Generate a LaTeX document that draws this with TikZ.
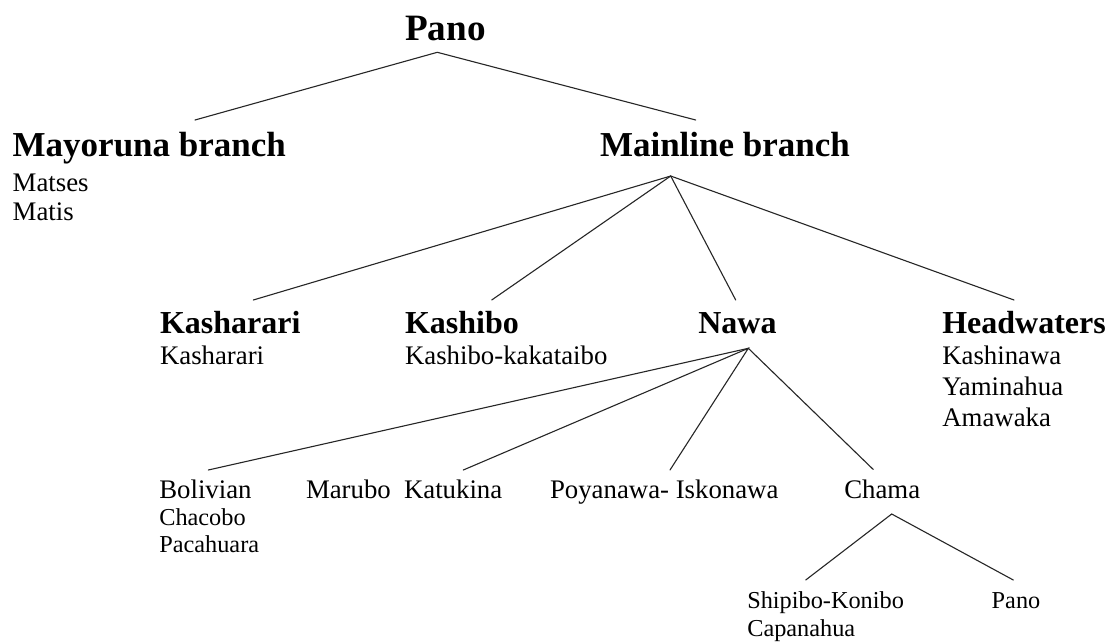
\documentclass[tikz,border=0pt]{standalone}
\usepackage{fontspec}
\setmainfont{Liberation Serif}
\tikzset{
  every node/.style={inner sep=0pt, outer sep=0pt, anchor=base west},
  topstyle/.style={font=\fontsize{37.2}{37.2}\selectfont\bfseries, anchor=base},
  lvlone/.style={font=\fontsize{35}{35}\selectfont\bfseries},
  lvltwo/.style={font=\fontsize{32}{32}\selectfont\bfseries},
  lang/.style={font=\fontsize{26.8}{26.8}\selectfont},
  smalllang/.style={font=\fontsize{24.3}{24.3}\selectfont},
  branchline/.style={line width=1.1pt, draw=black!85, line cap=round}
}
\begin{document}
\begin{tikzpicture}[x=1pt, y=-1pt]
\useasboundingbox[fill=white] (0,0) rectangle (1111,641);

% Top
\node[topstyle] (pano) at (445.5,40.7) {Pano};

% Level 1
\node[lvlone] (mayoruna) at (12.7,156) {Mayoruna branch};
\node[lang] (matses) at (12.7,191) {Matses};
\node[lang] (matis) at (12.7,220.5) {Matis};
\node[lvlone] (mainline) at (600,156) {Mainline branch};

% Level 2
\node[lvltwo] (kasharariH) at (160,333.3) {Kasharari};
\node[lang] (kasharari) at (160,364.5) {Kasharari};
\node[lvltwo] (kashiboH) at (405,333.3) {Kashibo};
\node[lang] (kashibo) at (405,364.5) {Kashibo-kakataibo};
\node[lvltwo] (nawa) at (698.3,333.3) {Nawa};
\node[lvltwo] (headwaters) at (942.3,333.3) {Headwaters};
\node[lang] (kashinawa) at (942.3,364.8) {Kashinawa};
\node[lang] (yaminahua) at (942.3,395.5) {Yaminahua};
\node[lang] (amawaka) at (942.3,426.2) {Amawaka};

% Level 3
\node[lang] (bolivian) at (159.3,498.3) {Bolivian};
\node[smalllang] (chacobo) at (159.3,525) {Chacobo};
\node[smalllang] (pacahuara) at (159.3,552.7) {Pacahuara};
\node[lang] (marubo) at (306,498.3) {Marubo};
\node[lang] (katukina) at (404,498.3) {Katukina};
\node[lang] (poyanawa) at (550,498.3) {Poyanawa- Iskonawa};
\node[lang] (chama) at (844.3,498.3) {Chama};

% Level 4
\node[smalllang] (shipibo) at (747.3,608.3) {Shipibo-Konibo};
\node[smalllang] (capanahua) at (747.3,636.7) {Capanahua};
\node[smalllang] (panoleaf) at (991.7,608.3) {Pano};

% Connector ends
\coordinate (panoA) at (437.3,52.3);
\coordinate (mayoT) at (195,120);
\coordinate (mainT) at (695.7,120);
\coordinate (mainA) at (670.7,176);
\coordinate (kashaT) at (253.3,300);
\coordinate (kashiT) at (491.7,300);
\coordinate (nawaT) at (735.7,300);
\coordinate (headT) at (1014,300);
\coordinate (nawaA) at (748.3,348.3);
\coordinate (boliT) at (208.3,470);
\coordinate (katuT) at (463.3,470);
\coordinate (poyaT) at (670,470);
\coordinate (chamaT) at (873.3,469.5);
\coordinate (chamaA) at (891.7,514);
\coordinate (shipT) at (805.7,580);
\coordinate (panoT) at (1013.3,580);

\draw[branchline] (mayoT) -- (panoA) -- (mainT);
\draw[branchline] (kashaT) -- (mainA) -- (headT);
\draw[branchline] (kashiT) -- (mainA) -- (nawaT);
\draw[branchline] (boliT) -- (nawaA) -- (chamaT);
\draw[branchline] (katuT) -- (nawaA) -- (poyaT);
\draw[branchline] (shipT) -- (chamaA) -- (panoT);
\end{tikzpicture}
\end{document}
